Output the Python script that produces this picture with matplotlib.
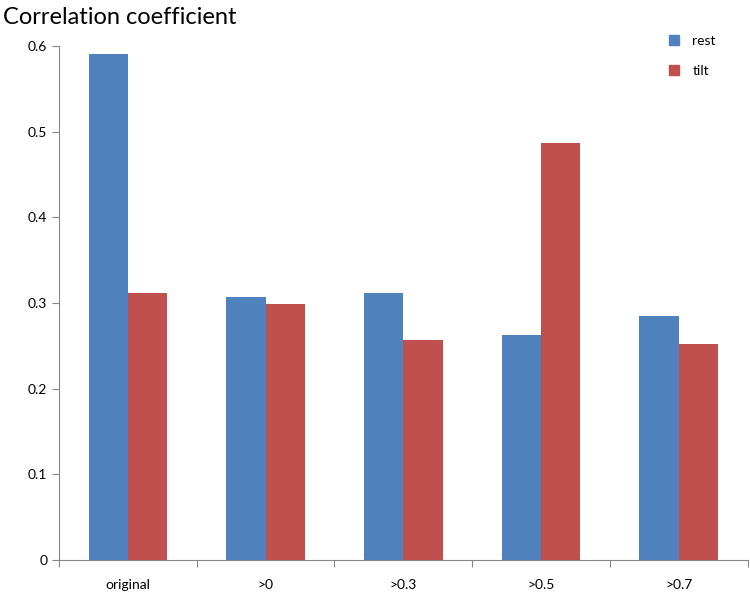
import numpy as np
import matplotlib.pyplot as plt
from matplotlib.lines import Line2D

plt.rcParams['font.family'] = ['Lato', 'DejaVu Sans']

categories = ['original', '>0', '>0.3', '>0.5', '>0.7']
rest = [0.590, 0.307, 0.312, 0.263, 0.285]
tilt = [0.312, 0.299, 0.257, 0.487, 0.252]

blue = '#4F81BD'
red = '#C0504D'
grey = '#868686'

fig = plt.figure(figsize=(7.5, 5.93), dpi=100)
ax = fig.add_axes([0.0787, 0.0556, 0.918, 0.867])

x = np.arange(len(categories))
w = 0.285
ax.bar(x - w / 2, rest, w, color=blue, label='rest')
ax.bar(x + w / 2, tilt, w, color=red, label='tilt')

ax.set_xlim(-0.5, len(categories) - 0.5)
ax.set_ylim(0, 0.6)
ax.set_yticks(np.arange(0, 0.61, 0.1))
ax.set_yticklabels(['0', '0.1', '0.2', '0.3', '0.4', '0.5', '0.6'])

# boundary ticks between groups, labels centred under each group
ax.set_xticks(np.arange(-0.5, len(categories), 1.0))
ax.set_xticklabels([])
ax.set_xticks(x, minor=True)
ax.set_xticklabels(categories, minor=True)
ax.tick_params(axis='x', which='minor', length=0, pad=14)
ax.tick_params(axis='both', which='major', length=5, color=grey, labelsize=10)
ax.tick_params(axis='x', which='minor', labelsize=10)

for s in ['top', 'right']:
    ax.spines[s].set_visible(False)
for s in ['left', 'bottom']:
    ax.spines[s].set_color(grey)

handles = [Line2D([], [], marker='s', ls='', color=blue, markersize=7),
           Line2D([], [], marker='s', ls='', color=red, markersize=7)]
ax.legend(handles, ['rest', 'tilt'], loc='upper right', bbox_to_anchor=(0.972, 1.045),
          frameon=False, fontsize=10, labelspacing=1.3, handletextpad=0.3)

fig.text(0.004, 0.97, 'Correlation coefficient', fontsize=17, va='center', ha='left')

fig.savefig('out.png', dpi=100)
